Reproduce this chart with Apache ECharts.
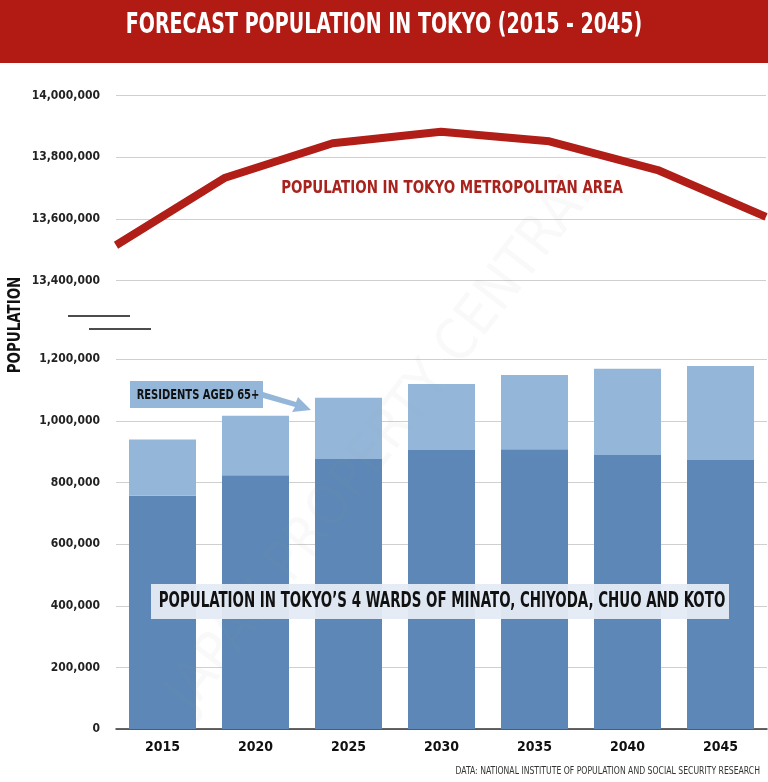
<!DOCTYPE html>
<html>
<head>
<meta charset="utf-8">
<script src="https://cdn.jsdelivr.net/npm/echarts@6/dist/echarts.min.js"></script>
<style>html,body{margin:0;padding:0;background:#fff}#c{width:768px;height:782px}</style>
</head>
<body>
<div id="c"></div>
<script>
var years = ['2015','2020','2025','2030','2035','2040','2045'];
var metroPopulation = [13515000, 13733000, 13846000, 13883000, 13852000, 13759000, 13607000];
var wardsUnder65 = [757000, 824000, 876000, 906000, 908000, 889000, 873000];
var wardsAged65 = [183000, 193000, 199000, 214000, 241000, 280000, 305000];
var topTicks = {min: 13400000, max: 14000000, interval: 200000};
var bottomTicks = {min: 0, max: 1200000, interval: 200000};

var FONT = '"DejaVu Sans Condensed","Liberation Sans Narrow",sans-serif';
function fmt(v){ return String(v).replace(/\B(?=(\d{3})+(?!\d))/g, ','); }

var chart = echarts.init(document.getElementById('c'), null, {renderer: 'canvas'});
var axisLabel = {fontFamily: FONT, fontWeight: 'bold', fontSize: 12, color: '#222', margin: 16, formatter: fmt};
function txt(s, x, y, size, color, sx, opts) {
  opts = opts || {};
  return {type: 'text', x: x, y: y, scaleX: sx, rotation: opts.rotation || 0, z: opts.z || 12,
    style: {text: s, fill: color, font: (opts.weight || 'bold') + ' ' + size + 'px ' + FONT,
      textAlign: opts.align || 'center', textVerticalAlign: 'middle'}};
}
chart.setOption({
  animation: false,
  grid: [
    {left: 116, width: 650, top: 95.7, height: 185},
    {left: 116, width: 651, top: 359.3, height: 369.7}
  ],
  xAxis: [
    {type: 'category', gridIndex: 0, data: years, boundaryGap: false, show: false},
    {type: 'category', gridIndex: 1, data: years, boundaryGap: true,
     axisLine: {lineStyle: {color: '#333', width: 1.5}}, axisTick: {show: false},
     axisLabel: {fontFamily: FONT, fontWeight: 'bold', fontSize: 14, color: '#111', margin: 11}}
  ],
  yAxis: [
    {type: 'value', gridIndex: 0, min: topTicks.min, max: topTicks.max, interval: topTicks.interval,
     axisLine: {show: false}, axisTick: {show: false}, axisLabel: axisLabel,
     splitLine: {lineStyle: {color: '#cfcfcf', width: 1}}},
    {type: 'value', gridIndex: 1, min: bottomTicks.min, max: bottomTicks.max, interval: bottomTicks.interval,
     axisLine: {show: false}, axisTick: {show: false}, axisLabel: axisLabel,
     splitLine: {lineStyle: {color: '#cfcfcf', width: 1}}}
  ],
  series: [
    {type: 'line', xAxisIndex: 0, yAxisIndex: 0, data: metroPopulation, showSymbol: false,
     lineStyle: {color: '#B01E17', width: 8}, z: 5},
    {type: 'bar', xAxisIndex: 1, yAxisIndex: 1, stack: 'w', data: wardsUnder65, barWidth: 67,
     itemStyle: {color: '#5C87B6'}},
    {type: 'bar', xAxisIndex: 1, yAxisIndex: 1, stack: 'w', data: wardsAged65, barWidth: 67,
     itemStyle: {color: '#94B7D9'}}
  ],
  graphic: [
    {type: 'rect', shape: {x: 0, y: 0, width: 768, height: 63}, style: {fill: '#B11B13'}, z: 10},
    txt('FORECAST POPULATION IN TOKYO (2015 - 2045)', 384, 25, 29, '#fff', 0.73),
    txt('POPULATION', 15, 325, 18, '#111', 0.83, {rotation: Math.PI/2}),
    {type: 'line', shape: {x1: 68, y1: 316, x2: 130, y2: 316}, style: {stroke: '#111', lineWidth: 1.5}, z: 11},
    {type: 'line', shape: {x1: 89, y1: 329, x2: 151, y2: 329}, style: {stroke: '#111', lineWidth: 1.5}, z: 11},
    txt('POPULATION IN TOKYO METROPOLITAN AREA', 452, 188, 18, '#A8231D', 0.83),
    {type: 'rect', shape: {x: 130, y: 381, width: 133, height: 27}, style: {fill: '#94B7D9'}, z: 11},
    txt('RESIDENTS AGED 65+', 198, 395, 14, '#111', 0.79),
    {type: 'polygon', z: 11, shape: {points: [[263,392],[296,402],[298,397],[311,410],[292,412],[295,407],[263,398]]},
      style: {fill: '#94B7D9'}},
    {type: 'rect', shape: {x: 151, y: 584, width: 578, height: 35}, style: {fill: 'rgba(228,235,244,0.95)'}, z: 11},
    txt('POPULATION IN TOKYO\u2019S 4 WARDS OF MINATO, CHIYODA, CHUO AND KOTO', 442, 602, 21, '#111', 0.71),
    txt('JAPAN PROPERTY CENTRAL', 385, 440, 56, 'rgba(160,160,160,0.06)', 1, {rotation: Math.PI*0.29, weight: 'normal', z: 4}),
    txt('DATA: NATIONAL INSTITUTE OF POPULATION AND SOCIAL SECURITY RESEARCH', 760, 771, 11, '#333', 0.78, {weight: 'normal', align: 'right'})
  ]
});
</script>
</body>
</html>
